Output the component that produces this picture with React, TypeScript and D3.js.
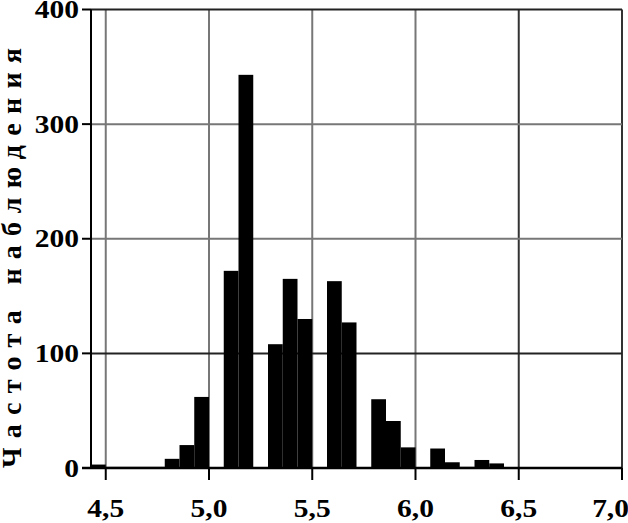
import React, { useEffect, useRef } from "react";
import * as d3 from "d3";

// frequency per bin, bins of width 1/14 starting at 4.5 - 1/14
const binWidth = 1 / 14;
const binStart = 4.5 - 1 / 14;
const counts = [
  3, 1, 1, 1, 1, 8, 20, 62, 0, 172, 343, 0, 108, 165, 130, 0, 163, 127, 0, 60,
  41, 18, 0, 17, 5, 1, 7, 4, 0, 0, 0, 0, 0, 0, 0, 0,
];
const xTicks = [4.5, 5.0, 5.5, 6.0, 6.5, 7.0];
const xTickLabels = ["4,5", "5,0", "5,5", "6,0", "6,5", "7,0"];
const yTicks = [0, 100, 200, 300, 400];
const yTitle = "Частота наблюдения";

const App = () => {
  const svgRef = useRef<SVGSVGElement>(null);

  useEffect(() => {
    const width = 628;
    const height = 523;
    const svg = d3.select(svgRef.current);
    svg.selectAll("*").remove();
    svg.attr("width", width).attr("height", height);

    const x = d3.scaleLinear().domain([binStart, 7.0]).range([91, 622]);
    const y = d3.scaleLinear().domain([0, 400]).range([468, 9.5]);

    const font = "'Liberation Serif', 'Times New Roman', serif";

    // grid lines
    svg
      .append("g")
      .selectAll("line")
      .data(xTicks)
      .join("line")
      .attr("x1", (d) => x(d))
      .attr("x2", (d) => x(d))
      .attr("y1", y(400))
      .attr("y2", y(0))
      .attr("stroke", (d) => (d >= 6.5 ? "#333" : "#777"))
      .attr("stroke-width", 2);

    svg
      .append("g")
      .selectAll("line")
      .data(yTicks.filter((d) => d > 0))
      .join("line")
      .attr("x1", x.range()[0])
      .attr("x2", x.range()[1])
      .attr("y1", (d) => y(d))
      .attr("y2", (d) => y(d))
      .attr("stroke", (d) => (d === 100 || d === 400 ? "#222" : "#777"))
      .attr("stroke-width", 2);

    // bars
    svg
      .append("g")
      .selectAll("rect")
      .data(counts)
      .join("rect")
      .attr("x", (d, i) => x(binStart + i * binWidth))
      .attr("width", (d, i) => x(binStart + (i + 1) * binWidth) - x(binStart + i * binWidth))
      .attr("y", (d) => y(d))
      .attr("height", (d) => y(0) - y(d))
      .attr("fill", "#000");

    // axes lines
    svg
      .append("line")
      .attr("x1", 91)
      .attr("x2", 91)
      .attr("y1", y(400))
      .attr("y2", y(0))
      .attr("stroke", "#000")
      .attr("stroke-width", 2);

    svg
      .append("line")
      .attr("x1", 82)
      .attr("x2", x.range()[1])
      .attr("y1", y(0))
      .attr("y2", y(0))
      .attr("stroke", "#000")
      .attr("stroke-width", 2.5);

    // y ticks and labels
    const yg = svg.append("g");
    yg.selectAll("line")
      .data(yTicks)
      .join("line")
      .attr("x1", 82)
      .attr("x2", 91)
      .attr("y1", (d) => y(d))
      .attr("y2", (d) => y(d))
      .attr("stroke", "#000")
      .attr("stroke-width", 2);

    yg.selectAll("text")
      .data(yTicks)
      .join("text")
      .attr("transform", (d) => `translate(79,${y(d) + 8.5}) scale(1.18,1)`)
      .attr("text-anchor", "end")
      .attr("font-family", font)
      .attr("font-weight", "bold")
      .attr("font-size", 25)
      .text((d) => d);

    // x ticks and labels
    const xg = svg.append("g");
    xg.selectAll("line")
      .data(xTicks)
      .join("line")
      .attr("x1", (d) => x(d))
      .attr("x2", (d) => x(d))
      .attr("y1", y(0))
      .attr("y2", 480)
      .attr("stroke", "#000")
      .attr("stroke-width", 2);

    xg.selectAll("text")
      .data(xTicks)
      .join("text")
      .attr("transform", (d, i) =>
        i === xTicks.length - 1
          ? `translate(629,517) scale(1.18,1)`
          : `translate(${x(d)},517) scale(1.18,1)`
      )
      .attr("text-anchor", (d, i) => (i === xTicks.length - 1 ? "end" : "middle"))
      .attr("font-family", font)
      .attr("font-weight", "bold")
      .attr("font-size", 25)
      .text((d, i) => xTickLabels[i]);

    // y axis title
    svg
      .append("text")
      .attr("transform", "translate(21,468) rotate(-90)")
      .attr("font-family", font)
      .attr("font-weight", "bold")
      .attr("font-size", 28)
      .attr("textLength", 420)
      .attr("lengthAdjust", "spacing")
      .text(yTitle);
  }, []);

  return (
    <svg
      ref={svgRef}
      style={{ position: "absolute", left: 0, top: 0, background: "#fff" }}
    ></svg>
  );
};

export default App;
